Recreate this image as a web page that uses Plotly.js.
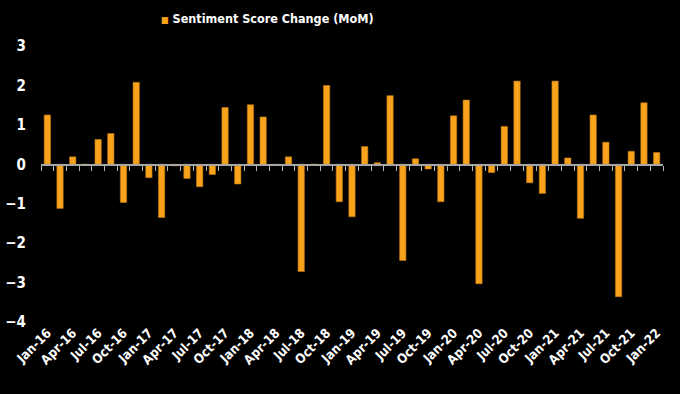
<!DOCTYPE html>
<html>
<head>
<meta charset="utf-8">
<script src="https://cdn.plot.ly/plotly-3.0.1.min.js"></script>
<style>html,body{margin:0;padding:0;background:#000;}#chart{width:680px;height:394px;}</style>
</head>
<body>
<div id="chart"></div>
<script>
// Sentiment score change per period (49 periods, roughly 8 per year, Jan-16 .. Jan-22)
const sentimentChange = [
  1.25, -1.12, 0.19, 0.0, 0.63, 0.78, -0.97, 2.08,
  -0.34, -1.35, -0.04, -0.36, -0.57, -0.26, 1.44, -0.50,
  1.51, 1.20, -0.02, 0.19, -2.72, 0.0, 2.00, -0.95,
  -1.33, 0.45, 0.04, 1.74, -2.44, 0.14, -0.12, -0.95,
  1.23, 1.63, -3.03, -0.21, 0.96, 2.11, -0.47, -0.74,
  2.11, 0.16, -1.37, 1.25, 0.56, -3.36, 0.33, 1.56, 0.30
];
const tickLabels = [
  'Jan-16','Apr-16','Jul-16','Oct-16','Jan-17','Apr-17','Jul-17','Oct-17',
  'Jan-18','Apr-18','Jul-18','Oct-18','Jan-19','Apr-19','Jul-19','Oct-19',
  'Jan-20','Apr-20','Jul-20','Oct-20','Jan-21','Apr-21','Jul-21','Oct-21','Jan-22'
];
const seriesName = 'Sentiment Score Change (MoM)';

const periodIndex = sentimentChange.map((_, i) => i);
const labelPositions = tickLabels.map((_, k) => k * 2);
const boundaryTicks = [];
for (let i = 0; i <= sentimentChange.length; i++) boundaryTicks.push(i - 0.5);

const font = "Tahoma, 'DejaVu Sans Condensed', 'DejaVu Sans', sans-serif";
const orange = '#F9A31C';

const traces = [
  {
    type: 'bar',
    x: periodIndex,
    y: sentimentChange,
    name: seriesName,
    marker: {color: orange, line: {color: '#B87410', width: 0.6}},
    width: 0.5,
    showlegend: false,
    hoverinfo: 'y'
  },
  // invisible trace to host the zero-crossing tick axis
  {
    type: 'scatter', x: [-0.5, 48.5], y: [0, 0], xaxis: 'x2', mode: 'none',
    showlegend: false, hoverinfo: 'skip'
  }
];

const layout = {
  width: 680, height: 394,
  paper_bgcolor: '#000', plot_bgcolor: '#000',
  margin: {l: 41, r: 17, t: 46, b: 72},
  font: {family: font, color: '#fff', size: 13},
  showlegend: false,
  xaxis: {
    range: [-0.5, sentimentChange.length - 0.5],
    tickmode: 'array', tickvals: labelPositions, ticktext: tickLabels,
    tickangle: -45, ticks: '', showline: false, showgrid: false, zeroline: false,
    tickfont: {family: font, size: 13, color: '#fff', weight: 'bold'},
    fixedrange: true
  },
  xaxis2: {
    overlaying: 'x', anchor: 'free', position: 4 / 7,
    range: [-0.5, sentimentChange.length - 0.5],
    tickmode: 'array', tickvals: boundaryTicks, ticktext: boundaryTicks.map(() => ''),
    ticks: 'outside', ticklen: 5, tickwidth: 1, tickcolor: '#b4b4b4',
    showline: true, linecolor: '#a6a6a6', linewidth: 1.5,
    showticklabels: false, showgrid: false, zeroline: false, fixedrange: true
  },
  yaxis: {
    range: [-4, 3], dtick: 1, tick0: 0,
    showgrid: false, zeroline: false, showline: false, ticks: '',
    ticklabelstandoff: 14,
    tickfont: {family: font, size: 15, color: '#fff', weight: 'bold'},
    fixedrange: true
  },
  annotations: [
    {
      xref: 'paper', yref: 'paper', x: (159 - 41) / 622, y: 1, yshift: 28,
      xanchor: 'left', yanchor: 'middle', showarrow: false,
      text: '<span style="color:' + orange + ';font-size:9px">■</span> ' + seriesName,
      font: {family: font, size: 12.5, color: '#fff', weight: 'bold'}
    }
  ]
};

Plotly.newPlot('chart', traces, layout, {displayModeBar: false, staticPlot: true});
</script>
</body>
</html>
